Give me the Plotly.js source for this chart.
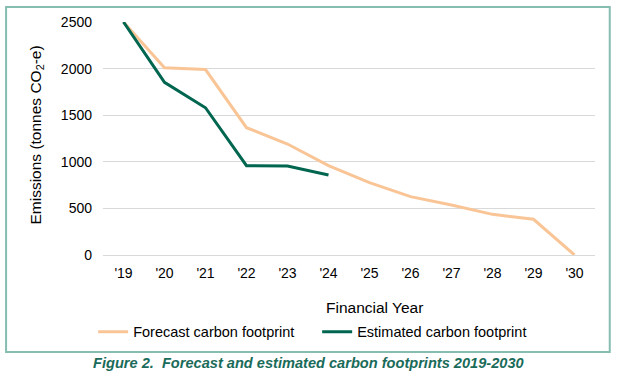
<!DOCTYPE html>
<html>
<head>
<meta charset="utf-8">
<script src="https://cdn.plot.ly/plotly-3.0.1.min.js"></script>
<style>
html,body{margin:0;padding:0;background:#fff;}
#chart{width:621px;height:374px;}
</style>
</head>
<body>
<div id="chart"></div>
<script>
const years = ["'19","'20","'21","'22","'23","'24","'25","'26","'27","'28","'29","'30"];
const forecast = [2500, 2010, 1990, 1366, 1191, 960, 776, 626, 536, 436, 383, 0];
const estimatedYears = ["'19","'20","'21","'22","'23","'24"];
const estimated = [2500, 1853, 1580, 958, 955, 858];
const yTicks = [0, 500, 1000, 1500, 2000, 2500];

const font = "Liberation Sans, Arial, sans-serif";

const traces = [
  {x: years, y: forecast, type: 'scatter', mode: 'lines', name: 'Forecast carbon footprint',
   line: {color: '#F9C596', width: 3}, cliponaxis: false},
  {x: estimatedYears, y: estimated, type: 'scatter', mode: 'lines', name: 'Estimated carbon footprint',
   line: {color: '#00664F', width: 3}, cliponaxis: false}
];

const layout = {
  width: 621, height: 374,
  margin: {l: 103, r: 26, t: 22, b: 119},
  paper_bgcolor: '#fff', plot_bgcolor: '#fff',
  font: {family: font, color: '#000', size: 14},
  showlegend: true,
  legend: {orientation: 'h', x: -0.02, y: -0.33, xanchor: 'left', yanchor: 'middle',
           font: {size: 14.5, color: '#000'}, entrywidth: 179, entrywidthmode: 'pixels',
           bgcolor: 'rgba(0,0,0,0)'},
  xaxis: {type: 'category', categoryarray: years, categoryorder: 'array',
          range: [-0.5, 11.5], showgrid: false, zeroline: false, showline: false,
          ticks: '', tickfont: {size: 14}, ticklabelstandoff: 8, fixedrange: true},
  yaxis: {range: [0, 2500], tickvals: yTicks, ticktext: yTicks.map(String),
          showgrid: true, gridcolor: '#D9D9D9', gridwidth: 1, zeroline: true,
          zerolinecolor: '#D9D9D9', zerolinewidth: 1, showline: false, ticks: '',
          tickfont: {size: 14}, ticklabelstandoff: 10, fixedrange: true},
  annotations: [
    {text: 'Financial Year', xref: 'paper', yref: 'paper', x: 0.551, y: -0.226,
     xanchor: 'center', yanchor: 'middle', showarrow: false, font: {size: 15.5}},
    {text: 'Emissions (tonnes CO<sub>2</sub>-e)', xref: 'paper', yref: 'paper', x: -0.136, y: 0.513,
     xanchor: 'center', yanchor: 'middle', textangle: -90, showarrow: false, font: {size: 15.5}},
    {text: '<b><i>Figure 2.  Forecast and estimated carbon footprints 2019-2030</i></b>',
     xref: 'paper', yref: 'paper', x: 0.417, y: -0.462, xanchor: 'center', yanchor: 'middle',
     showarrow: false, font: {size: 14.6, color: '#1A6B5A'}}
  ],
  shapes: [
    {type: 'rect', xref: 'paper', yref: 'paper', x0: -0.197, x1: 1.030, y0: -0.416, y1: 1.064,
     line: {color: '#86BDB1', width: 2}, fillcolor: 'rgba(0,0,0,0)', layer: 'below'}
  ]
};

Plotly.newPlot('chart', traces, layout, {displayModeBar: false, staticPlot: true});
</script>
</body>
</html>
